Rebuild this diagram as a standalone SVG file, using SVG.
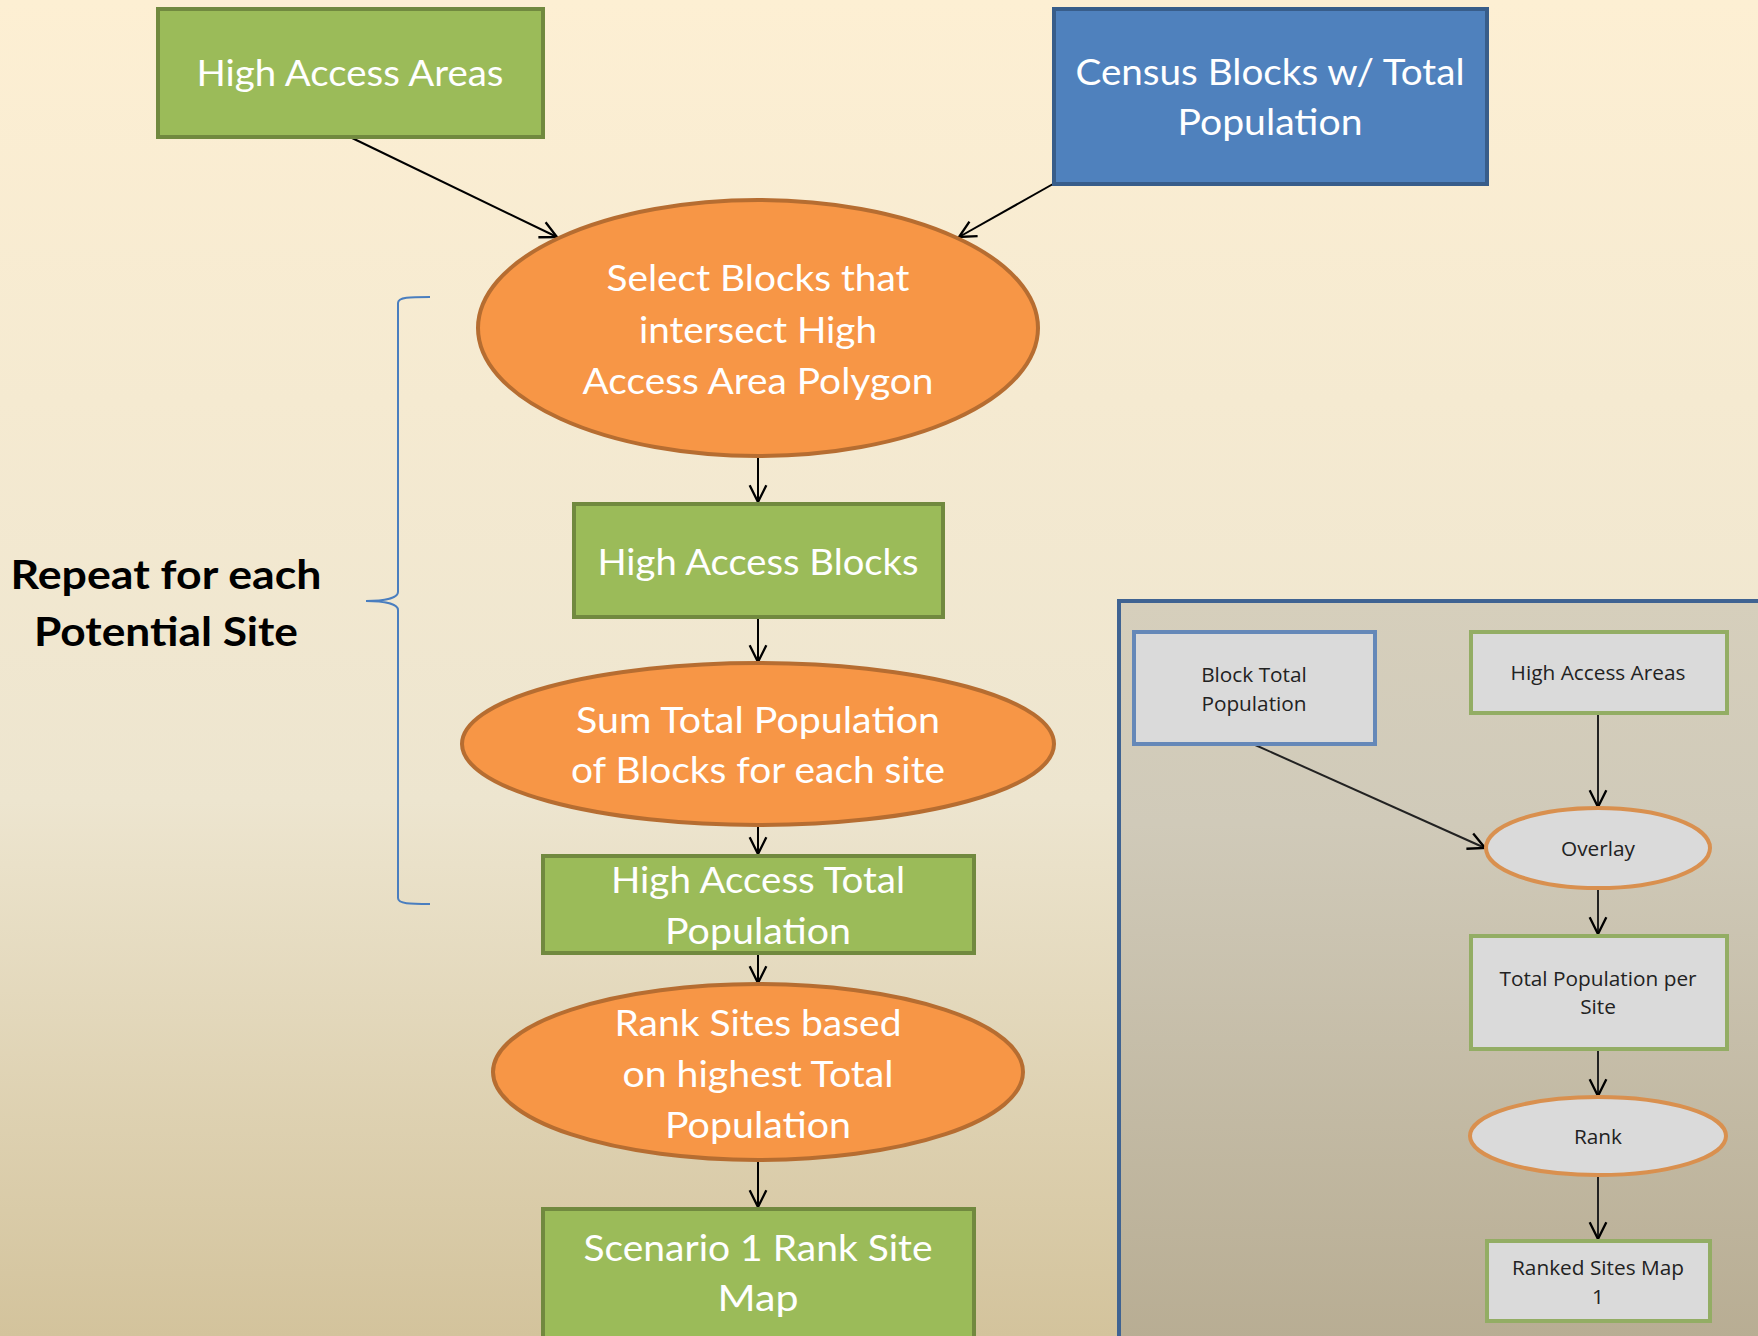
<svg xmlns="http://www.w3.org/2000/svg" width="1758" height="1336" viewBox="0 0 1758 1336">
<defs>
<linearGradient id="bg" x1="0" y1="0" x2="0" y2="1">
<stop offset="0" stop-color="#fdefd3"/>
<stop offset="0.6" stop-color="#ede5cf"/>
<stop offset="1" stop-color="#d3c39c"/>
</linearGradient>
<linearGradient id="panel" x1="0" y1="0" x2="0" y2="1">
<stop offset="0" stop-color="#d6cfbc"/>
<stop offset="0.3" stop-color="#d0cab9"/>
<stop offset="1" stop-color="#b8ad93"/>
</linearGradient>
<marker id="arr" viewBox="0 0 12 12" refX="11" refY="6" markerWidth="20" markerHeight="20" markerUnits="userSpaceOnUse" orient="auto">
<path d="M1,1 L11,6 L1,11" fill="none" stroke="#000" stroke-width="1.4"/>
</marker>
</defs>
<style>
.g{fill:#9bbb59;stroke:#71893f;stroke-width:4}
.b{fill:#4f81bd;stroke:#385d8a;stroke-width:4}
.o{fill:#f79646;stroke:#b66d31;stroke-width:4}
.t{font-family:Lato,"Open Sans",sans-serif;font-size:37px;fill:#fff;text-anchor:middle}
.s{font-family:"Open Sans",Lato,sans-serif;font-size:20.8px;fill:#222;text-anchor:middle}
.sg{fill:#dadada;stroke:#93ad64;stroke-width:4}
.sb{fill:#dadada;stroke:#6588b8;stroke-width:4}
.so{fill:#dadada;stroke:#d9904f;stroke-width:4}
.c{fill:none;stroke:#000;stroke-width:2;marker-end:url(#arr)}
.cs{fill:none;stroke:#222;stroke-width:2;marker-end:url(#arr)}
</style>
<rect x="0" y="0" width="1758" height="1336" fill="url(#bg)"/>

<g id="bracket">
<path d="M430,297 C410,297 398,297 398,303 L398,592 C398,598 385,601 366,601 C385,601 398,604 398,610 L398,898 C398,904 410,904 430,904" fill="none" stroke="#4a7ebf" stroke-width="2"/>
</g>
<g id="repeat-label">
<text x="166" y="589" font-family="Lato,'Open Sans',sans-serif" font-weight="bold" font-size="40" text-anchor="middle" fill="#000" textLength="311" lengthAdjust="spacingAndGlyphs">Repeat for each</text>
<text x="166" y="646" font-family="Lato,'Open Sans',sans-serif" font-weight="bold" font-size="40" text-anchor="middle" fill="#000" textLength="264" lengthAdjust="spacingAndGlyphs">Potential Site</text>
</g>

<g id="connectors">
<line class="c" x1="350" y1="137" x2="557" y2="237"/>
<line class="c" x1="1053" y1="184" x2="959" y2="237"/>
<line class="c" x1="758" y1="456" x2="758" y2="502"/>
<line class="c" x1="758" y1="618" x2="758" y2="662"/>
<line class="c" x1="758" y1="825" x2="758" y2="854"/>
<line class="c" x1="758" y1="954" x2="758" y2="983"/>
<line class="c" x1="758" y1="1161" x2="758" y2="1207"/>
</g>

<g id="high-access-areas">
<rect class="g" x="158" y="9" width="385" height="128"/>
<text class="t" x="350" y="86" textLength="307" lengthAdjust="spacingAndGlyphs">High Access Areas</text>
</g>
<g id="census-blocks">
<rect class="b" x="1054" y="9" width="433" height="175"/>
<text class="t" x="1270" y="85" textLength="389" lengthAdjust="spacingAndGlyphs">Census Blocks w/ Total</text>
<text class="t" x="1270" y="135" textLength="185" lengthAdjust="spacingAndGlyphs">Population</text>
</g>
<g id="select-blocks">
<ellipse class="o" cx="758" cy="328" rx="280" ry="128"/>
<text class="t" x="758" y="291" textLength="303" lengthAdjust="spacingAndGlyphs">Select Blocks that</text>
<text class="t" x="758" y="343" textLength="238" lengthAdjust="spacingAndGlyphs">intersect High</text>
<text class="t" x="758" y="394" textLength="351" lengthAdjust="spacingAndGlyphs">Access Area Polygon</text>
</g>
<g id="high-access-blocks">
<rect class="g" x="574" y="504" width="369" height="113"/>
<text class="t" x="758" y="575" textLength="321" lengthAdjust="spacingAndGlyphs">High Access Blocks</text>
</g>
<g id="sum-total">
<ellipse class="o" cx="758" cy="744" rx="296" ry="81"/>
<text class="t" x="758" y="733" textLength="364" lengthAdjust="spacingAndGlyphs">Sum Total Population</text>
<text class="t" x="758" y="783" textLength="374" lengthAdjust="spacingAndGlyphs">of Blocks for each site</text>
</g>
<g id="high-access-total">
<rect class="g" x="543" y="856" width="431" height="97"/>
<text class="t" x="758" y="893" textLength="294" lengthAdjust="spacingAndGlyphs">High Access Total</text>
<text class="t" x="758" y="944" textLength="186" lengthAdjust="spacingAndGlyphs">Population</text>
</g>
<g id="rank-sites">
<ellipse class="o" cx="758" cy="1072" rx="265" ry="88"/>
<text class="t" x="758" y="1036" textLength="287" lengthAdjust="spacingAndGlyphs">Rank Sites based</text>
<text class="t" x="758" y="1087" textLength="271" lengthAdjust="spacingAndGlyphs">on highest Total</text>
<text class="t" x="758" y="1138" textLength="186" lengthAdjust="spacingAndGlyphs">Population</text>
</g>
<g id="scenario-map">
<rect class="g" x="543" y="1209" width="431" height="140"/>
<text class="t" x="758" y="1261" textLength="349" lengthAdjust="spacingAndGlyphs">Scenario 1 Rank Site</text>
<text class="t" x="758" y="1311" textLength="81" lengthAdjust="spacingAndGlyphs">Map</text>
</g>

<g id="legend-panel">
<rect x="1119" y="601" width="645" height="740" fill="url(#panel)" stroke="#3f6392" stroke-width="4"/>
</g>
<g id="legend-connectors">
<line class="cs" x1="1253" y1="744" x2="1485" y2="848"/>
<line class="cs" x1="1598" y1="714" x2="1598" y2="807"/>
<line class="cs" x1="1598" y1="889" x2="1598" y2="934"/>
<line class="cs" x1="1598" y1="1050" x2="1598" y2="1096"/>
<line class="cs" x1="1598" y1="1176" x2="1598" y2="1239"/>
</g>
<g id="block-total-population">
<rect class="sb" x="1134" y="632" width="241" height="112"/>
<text class="s" x="1254" y="682">Block Total</text>
<text class="s" x="1254" y="711">Population</text>
</g>
<g id="legend-high-access-areas">
<rect class="sg" x="1471" y="632" width="256" height="81"/>
<text class="s" x="1598" y="680">High Access Areas</text>
</g>
<g id="overlay">
<ellipse class="so" cx="1598" cy="848" rx="112" ry="40"/>
<text class="s" x="1598" y="856">Overlay</text>
</g>
<g id="total-population-per-site">
<rect class="sg" x="1471" y="936" width="256" height="113"/>
<text class="s" x="1598" y="986">Total Population per</text>
<text class="s" x="1598" y="1014">Site</text>
</g>
<g id="rank">
<ellipse class="so" cx="1598" cy="1136" rx="128" ry="39"/>
<text class="s" x="1598" y="1144">Rank</text>
</g>
<g id="ranked-sites-map">
<rect class="sg" x="1487" y="1241" width="223" height="80"/>
<text class="s" x="1598" y="1275">Ranked Sites Map</text>
<text class="s" x="1598" y="1304">1</text>
</g>
</svg>
